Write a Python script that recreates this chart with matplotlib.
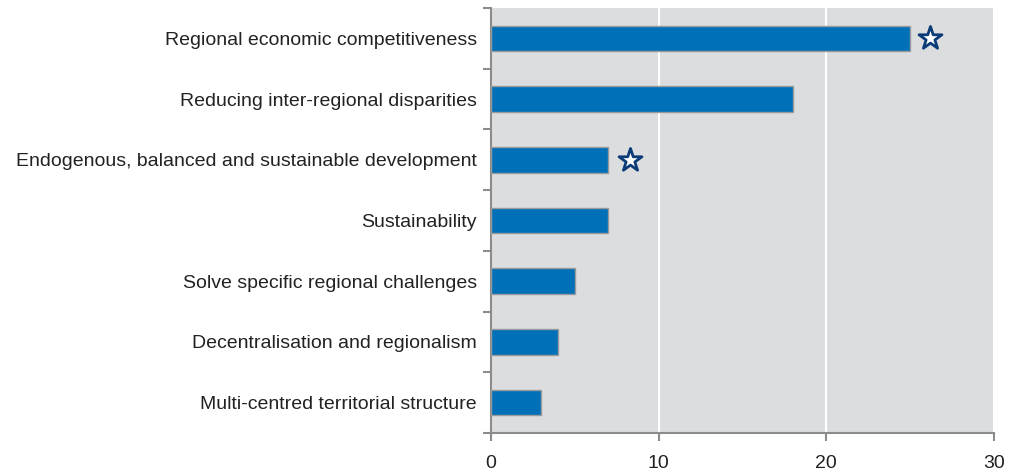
import numpy as np
import matplotlib.pyplot as plt

plt.rcParams['font.family'] = ['Liberation Sans', 'DejaVu Sans']

categories = [
    "Regional economic competitiveness",
    "Reducing inter-regional disparities",
    "Endogenous, balanced and sustainable development",
    "Sustainability",
    "Solve specific regional challenges",
    "Decentralisation and regionalism",
    "Multi-centred territorial structure",
]
values = [25, 18, 7, 7, 5, 4, 3]
# stars marked next to these categories (x position of star)
star_cats = [0, 2]
star_x = [26.2, 8.3]

fig = plt.figure(figsize=(10.09, 4.74), dpi=100)
ax = fig.add_axes([0.4866, 0.0865, 0.4985, 0.8965])

y = np.arange(len(categories))
ax.barh(y, values, height=0.42, color='#0070B8', edgecolor='#9A9A9A', linewidth=1, zorder=3)
ax.scatter(star_x, [y[i] for i in star_cats], marker='*', s=300, facecolor='white',
           edgecolor='#0B3C78', linewidth=2, zorder=4)

ax.set_xlim(0, 30)
ax.set_ylim(len(categories) - 0.5, -0.5)
ax.set_facecolor('#DCDDDF')
ax.set_xticks([0, 10, 20, 30])
ax.xaxis.grid(True, color='white', linewidth=1.5, zorder=0)
ax.set_axisbelow(True)

ax.set_yticks(y)
ax.set_yticklabels(categories, fontsize=14, color='#222222')
ax.tick_params(axis='y', length=0, pad=10)
ax.set_yticks(np.arange(-0.5, len(categories), 1), minor=True)
ax.tick_params(axis='y', which='minor', length=6, color='#8C8C8C', width=1.5)
ax.tick_params(axis='x', length=6, color='#8C8C8C', width=1.5, labelsize=14,
               labelcolor='#222222', pad=10)

for s in ['top', 'right']:
    ax.spines[s].set_visible(False)
for s in ['left', 'bottom']:
    ax.spines[s].set_color('#8C8C8C')
    ax.spines[s].set_linewidth(1.5)

fig.savefig('out.png', dpi=100)
